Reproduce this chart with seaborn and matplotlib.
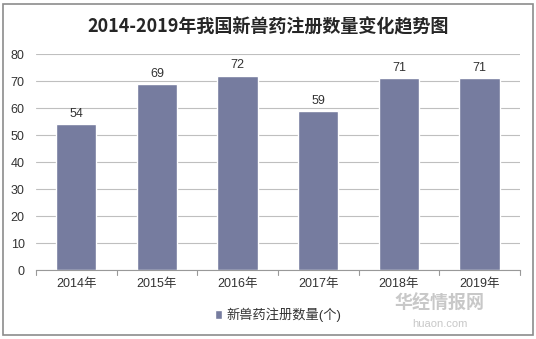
import matplotlib
matplotlib.use("Agg")
import matplotlib.pyplot as plt
import seaborn as sns
import pandas as pd
from matplotlib.patches import Rectangle

years = ["2014年", "2015年", "2016年", "2017年", "2018年", "2019年"]
counts = [54, 69, 72, 59, 71, 71]
series_name = "新兽药注册数量(个)"
title = "2014-2019年我国新兽药注册数量变化趋势图"

sns.set_theme(style="white")
plt.rcParams['font.family'] = ['Liberation Sans', 'Noto Sans CJK SC', 'DejaVu Sans']

df = pd.DataFrame({"year": years, "count": counts})
bar_color = "#767c9f"

fig = plt.figure(figsize=(5.36, 3.39), dpi=100)
ax = fig.add_axes([0.067, 0.2035, 0.903, 0.637])
sns.barplot(data=df, x="year", y="count", color=bar_color, width=0.5, ax=ax,
            saturation=1, label=series_name)

ax.set_ylim(0, 80)
ax.set_yticks(range(0, 81, 10))
ax.yaxis.grid(True, color="#bfbfbf", linewidth=0.8)
ax.set_axisbelow(True)
for s in ["left", "right", "top"]:
    ax.spines[s].set_visible(False)
ax.spines["bottom"].set_color("#999999")
ax.spines["bottom"].set_linewidth(0.8)
ax.set_xlabel("")
ax.set_ylabel("")
ax.tick_params(axis="y", length=0, labelsize=9, colors="#333333", pad=8)
ax.tick_params(axis="x", length=0, labelsize=9, colors="#333333", pad=6)
ax.set_xlim(-0.5, len(years) - 0.5)
for i in range(len(years) + 1):
    ax.plot([i - 0.5, i - 0.5], [0, -1.8], color="#999999", lw=0.8, clip_on=False)

for c in ax.containers:
    ax.bar_label(c, labels=[str(v) for v in counts], padding=3, fontsize=9, color="#333333")

fig.text(0.5, 0.92, title, ha="center", va="center", fontsize=13, fontweight="bold",
         color="#262626", family=['Noto Sans CJK SC', 'DejaVu Sans'])

leg = ax.legend(loc="upper center", bbox_to_anchor=(0.5, -0.12), frameon=False,
                fontsize=9.5, handlelength=0.6, handleheight=0.6, handletextpad=0.3)
for t in leg.get_texts():
    t.set_color("#333333")

# watermark
fig.text(0.82, 0.105, "华经情报网", fontsize=13, color="#bbbbbb", fontweight="bold",
         ha="center", va="center", alpha=0.8, family=['Noto Sans CJK SC'])
fig.text(0.82, 0.045, "huaon.com", fontsize=8, color="#c8c8c8", ha="center", va="center")

fig.patches.append(Rectangle((3 / 536, 4 / 339), 530 / 536, 331 / 339, transform=fig.transFigure,
                             fill=False, edgecolor="#8c8c8c", linewidth=1.2))

fig.savefig("out.png", dpi=100)
